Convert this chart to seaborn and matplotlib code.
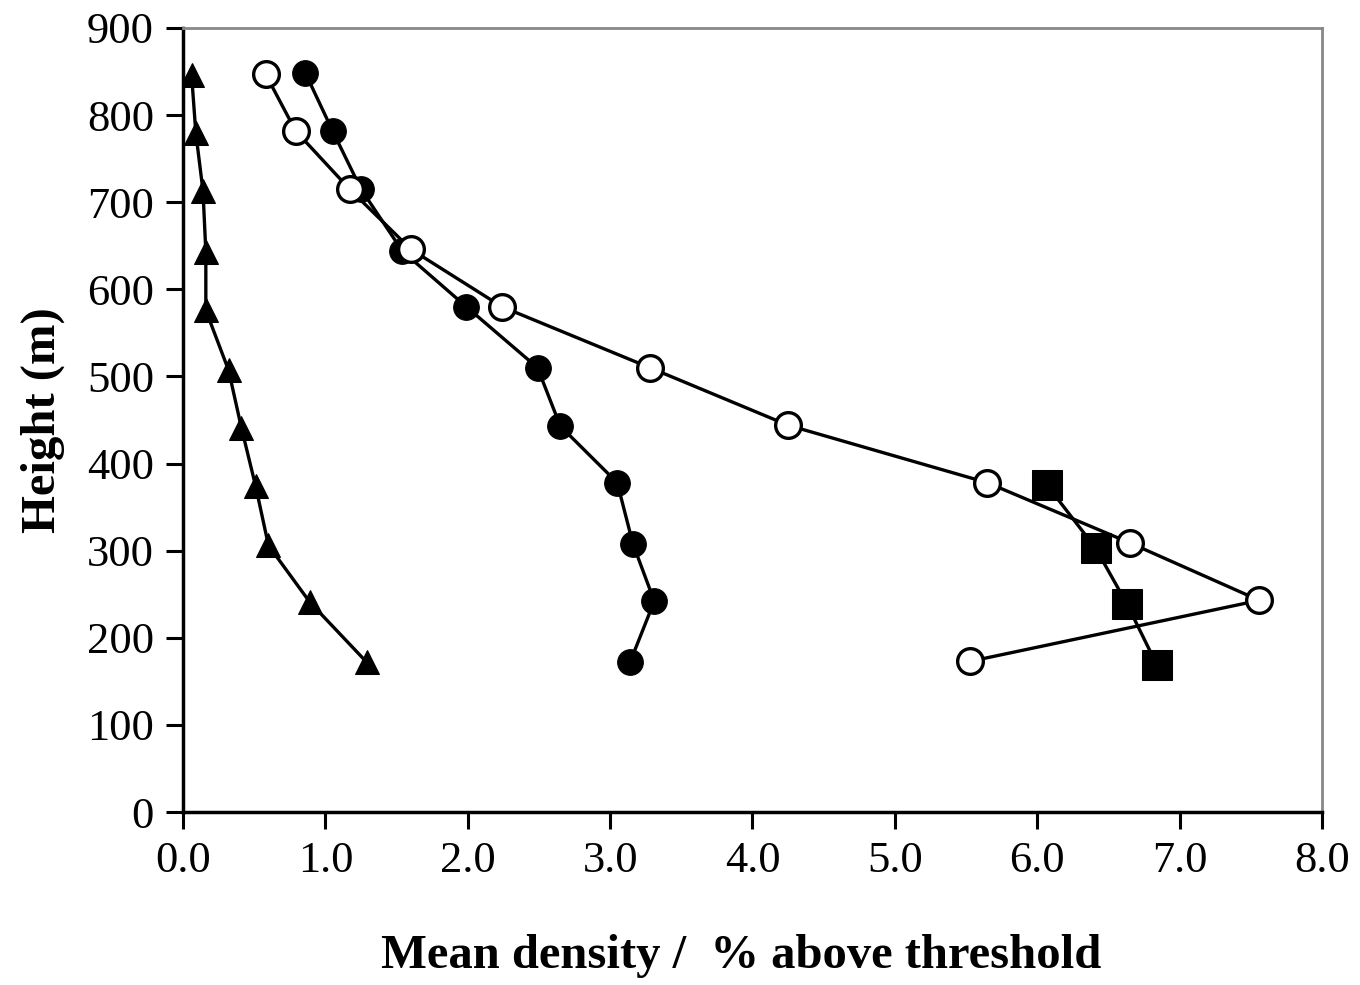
import matplotlib
matplotlib.use("Agg")
import matplotlib.pyplot as plt
import seaborn as sns
import numpy as np

sns.set_style("white")
plt.rcParams['font.family'] = ['Liberation Serif', 'DejaVu Serif']
plt.rcParams['text.color'] = 'black'
plt.rcParams['axes.labelcolor'] = 'black'
plt.rcParams['xtick.color'] = 'black'
plt.rcParams['ytick.color'] = 'black'

tri_x = [0.06, 0.09, 0.14, 0.16, 0.16, 0.32, 0.41, 0.51, 0.60, 0.89, 1.29]
tri_y = [846, 779, 713, 643, 576, 507, 441, 374, 306, 241, 172]

fc_x = [0.86, 1.05, 1.25, 1.54, 1.99, 2.49, 2.65, 3.05, 3.16, 3.31, 3.14]
fc_y = [848, 782, 715, 644, 580, 510, 443, 378, 308, 242, 172]

oc_x = [0.58, 0.79, 1.17, 1.60, 2.24, 3.28, 4.25, 5.65, 6.65, 7.56, 5.53]
oc_y = [847, 782, 715, 646, 580, 510, 444, 378, 309, 243, 173]

sq_x = [6.07, 6.41, 6.63, 6.84]
sq_y = [375, 303, 239, 169]

xticks = [0.0, 1.0, 2.0, 3.0, 4.0, 5.0, 6.0, 7.0, 8.0]
yticks = [0, 100, 200, 300, 400, 500, 600, 700, 800, 900]

fig = plt.figure(figsize=(13.6, 9.85), dpi=100)
ax = fig.add_axes([0.1346, 0.1756, 0.972 - 0.1346, 0.9716 - 0.1756])

lw = 2.4
sns.lineplot(x=tri_x, y=tri_y, sort=False, estimator=None, ax=ax, color='black',
             linewidth=lw, marker='^', markersize=17, markerfacecolor='black',
             markeredgecolor='black', zorder=3)
sns.lineplot(x=fc_x, y=fc_y, sort=False, estimator=None, ax=ax, color='black',
             linewidth=lw, marker='o', markersize=18.5, markerfacecolor='black',
             markeredgecolor='black', zorder=3)
sns.lineplot(x=oc_x, y=oc_y, sort=False, estimator=None, ax=ax, color='black',
             linewidth=lw, marker='o', markersize=18.5, markerfacecolor='white',
             markeredgecolor='black', markeredgewidth=2.4, zorder=4)
sns.lineplot(x=sq_x, y=sq_y, sort=False, estimator=None, ax=ax, color='black',
             linewidth=lw, marker='s', markersize=22, markerfacecolor='black',
             markeredgecolor='black', zorder=5)

ax.set_xlim(0, 8)
ax.set_ylim(0, 900)
ax.set_xticks(xticks)
ax.set_xticklabels([f"{v:.1f}" for v in xticks])
ax.set_yticks(yticks)
ax.set_yticklabels([str(v) for v in yticks])
ax.tick_params(axis='both', labelsize=32, direction='out', length=12, width=2.2,
               color='black', labelcolor='black', bottom=True, left=True, pad=9)

for s in ['left', 'bottom']:
    ax.spines[s].set_color('black')
    ax.spines[s].set_linewidth(2.5)
for s in ['top', 'right']:
    ax.spines[s].set_color('#888888')
    ax.spines[s].set_linewidth(2.0)

ax.set_xlabel("Mean density /  % above threshold", fontsize=35, fontweight='bold',
              color='black')
ax.xaxis.set_label_coords(0.49, -0.155)
ax.set_ylabel("Height (m)", fontsize=35, fontweight='bold', labelpad=16, color='black')

fig.savefig("out.png", dpi=100)
